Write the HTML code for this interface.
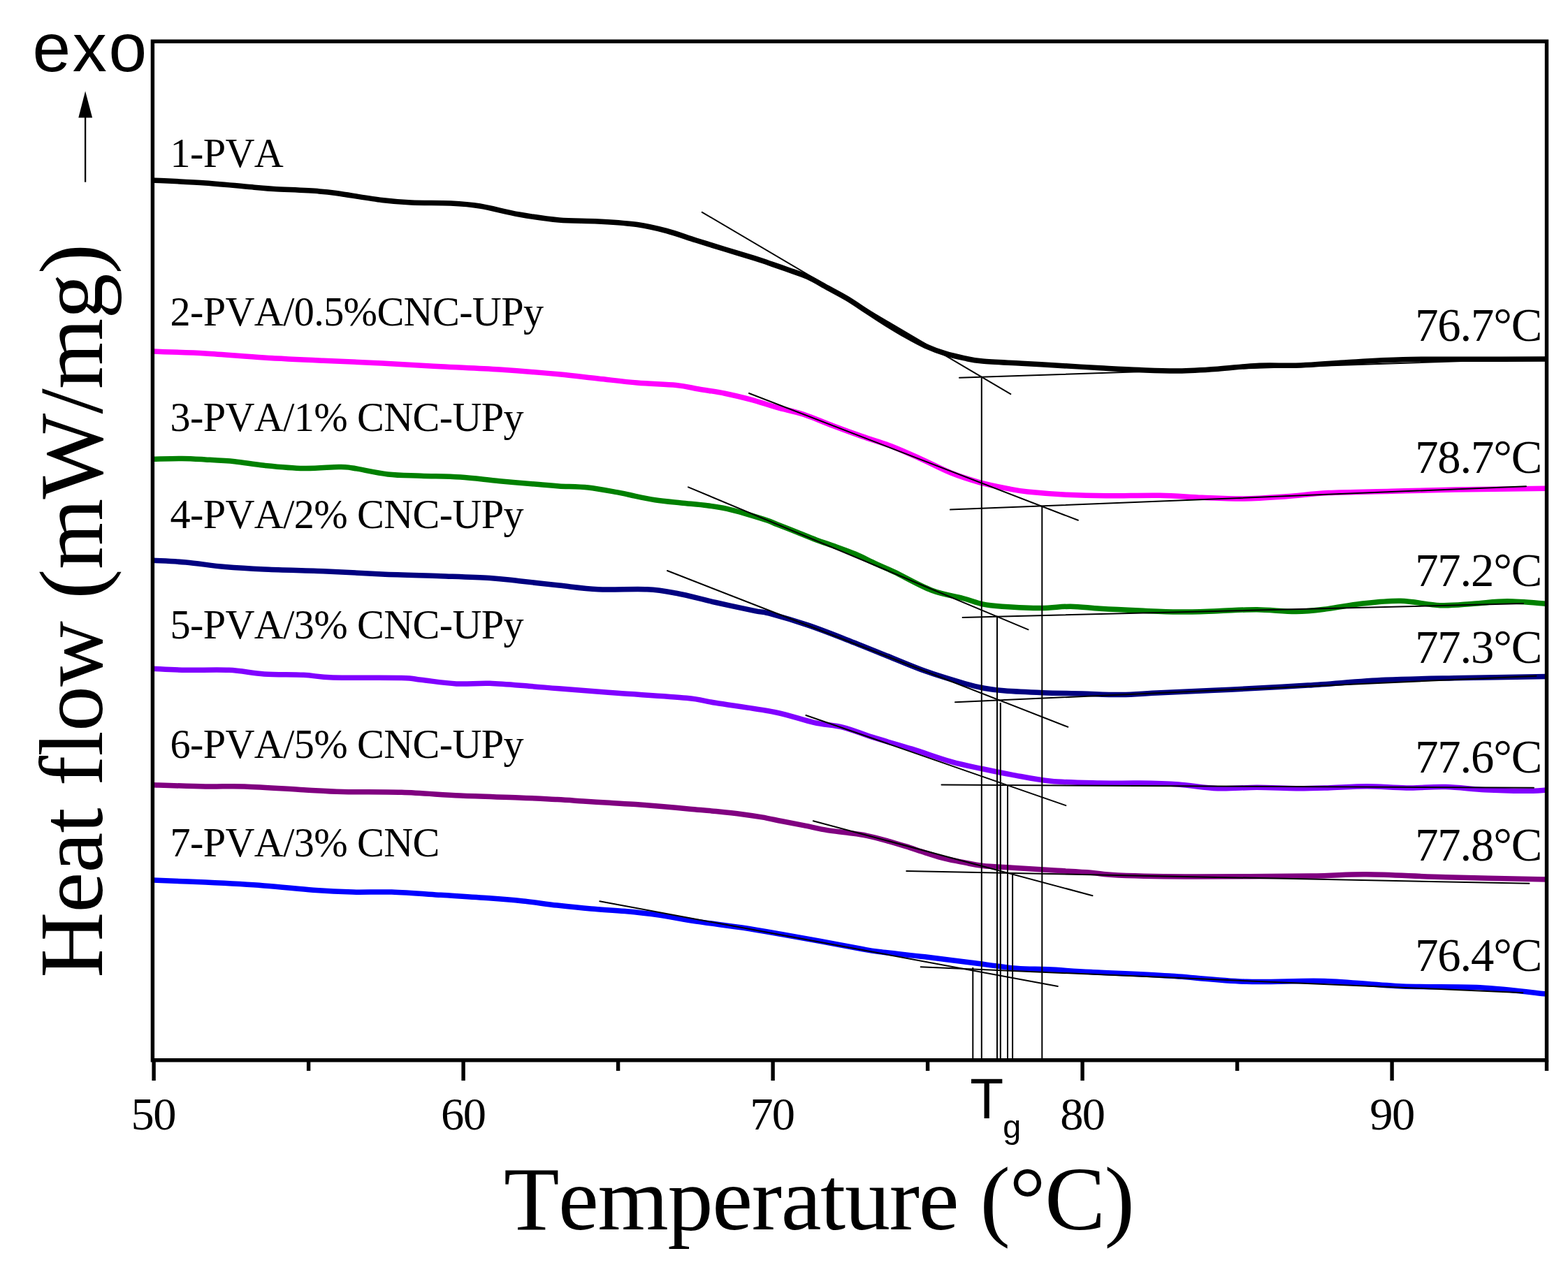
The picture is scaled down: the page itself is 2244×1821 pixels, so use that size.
<!DOCTYPE html>
<html><head><meta charset="utf-8"><title>DSC curves</title>
<style>html,body{margin:0;padding:0;background:#fff;width:2244px;height:1821px;overflow:hidden}svg{display:block}</style>
</head><body>
<svg width="2244" height="1821" viewBox="0 0 2244 1821">
<rect width="2244" height="1821" fill="#fff"/>
<path d="M219.0,257.9 C231.5,258.6 269.8,260.3 294.0,262.0 C318.2,263.7 347.7,266.8 364.0,268.2 C380.3,269.6 376.5,269.6 392.0,270.5 C407.5,271.4 440.6,272.6 457.0,273.9 C473.4,275.1 475.6,275.9 490.5,278.0 C505.4,280.1 530.2,284.5 546.6,286.5 C563.0,288.5 572.3,289.2 588.7,290.0 C605.1,290.8 628.4,290.2 644.8,291.0 C661.2,291.8 670.5,292.3 686.9,295.0 C703.3,297.7 724.1,303.7 743.0,307.0 C761.9,310.3 781.2,313.3 800.0,315.0 C818.8,316.7 837.3,315.9 856.0,317.0 C874.7,318.1 895.7,319.2 912.0,321.5 C928.3,323.8 940.0,326.8 954.0,330.5 C968.0,334.2 982.0,339.6 996.0,344.0 C1010.0,348.4 1023.9,352.7 1038.0,357.0 C1052.1,361.3 1070.2,366.6 1080.5,369.8 C1090.8,373.1 1092.1,373.8 1100.0,376.5 C1107.9,379.2 1118.7,382.8 1128.0,386.2 C1137.3,389.6 1146.7,392.4 1156.1,396.7 C1165.5,401.0 1174.8,406.8 1184.2,411.9 C1193.6,417.0 1202.9,421.7 1212.2,427.3 C1221.5,432.9 1231.0,439.5 1240.3,445.6 C1249.6,451.7 1258.9,458.0 1268.3,463.8 C1277.7,469.6 1287.1,475.4 1296.4,480.6 C1305.8,485.9 1315.1,491.1 1324.4,495.3 C1333.8,499.5 1343.2,503.0 1352.5,505.9 C1361.8,508.8 1371.6,511.0 1380.5,512.9 C1389.4,514.8 1392.4,515.8 1406.0,517.0 C1419.6,518.2 1443.3,519.2 1462.0,520.3 C1480.7,521.4 1499.3,522.3 1518.0,523.4 C1536.7,524.5 1555.7,525.8 1574.4,526.8 C1593.2,527.8 1611.8,528.9 1630.5,529.6 C1649.2,530.3 1667.9,531.2 1686.6,531.0 C1705.3,530.8 1724.0,529.5 1742.7,528.2 C1761.4,526.9 1778.9,524.3 1798.8,523.4 C1818.7,522.5 1841.0,523.8 1862.0,523.0 C1883.0,522.2 1900.2,520.3 1924.5,518.9 C1948.8,517.5 1976.4,515.5 2007.6,514.7 C2038.8,513.9 2077.2,514.4 2111.4,514.3 C2145.6,514.2 2196.1,514.0 2213.0,514.0" fill="none" stroke="#000000" stroke-width="7.5" stroke-linejoin="round" stroke-linecap="butt"/>
<path d="M219.0,503.1 C231.5,503.6 267.5,504.4 294.0,505.9 C320.5,507.4 349.9,510.3 378.0,512.0 C406.1,513.7 434.4,515.0 462.5,516.3 C490.6,517.6 518.6,518.6 546.6,520.0 C574.6,521.4 602.7,523.2 630.8,524.7 C658.9,526.2 686.8,527.1 715.0,529.0 C743.2,530.9 776.5,533.6 800.0,535.8 C823.5,538.0 837.3,540.0 856.0,542.0 C874.7,544.0 893.3,546.4 912.0,548.0 C930.7,549.6 953.3,550.0 968.0,551.5 C982.7,553.0 988.4,555.0 1000.0,557.0 C1011.6,559.0 1024.9,560.7 1037.4,563.2 C1049.9,565.7 1062.3,568.8 1074.8,572.1 C1087.3,575.5 1099.7,579.8 1112.2,583.3 C1124.7,586.8 1136.7,588.9 1150.0,593.3 C1163.3,597.7 1178.0,604.2 1192.0,609.5 C1206.0,614.8 1220.2,620.0 1234.2,624.9 C1248.2,629.8 1262.2,633.5 1276.2,638.9 C1290.2,644.3 1304.3,650.8 1318.3,657.1 C1332.3,663.4 1346.4,671.2 1360.4,676.8 C1374.4,682.4 1388.5,686.9 1402.5,690.8 C1416.5,694.6 1433.1,697.7 1444.5,699.9 C1455.9,702.1 1457.1,702.6 1470.8,704.0 C1484.5,705.4 1508.2,707.3 1526.9,708.3 C1545.6,709.2 1560.8,709.6 1583.0,709.7 C1605.2,709.9 1637.1,708.8 1660.0,709.2 C1682.9,709.6 1700.3,711.5 1720.4,712.3 C1740.5,713.1 1760.5,714.2 1780.6,714.0 C1800.7,713.8 1820.9,712.2 1841.0,710.8 C1861.1,709.4 1875.9,706.9 1901.0,705.6 C1926.1,704.3 1961.3,704.0 1991.4,703.2 C2021.5,702.5 2044.8,701.8 2081.7,701.1 C2118.6,700.5 2191.1,699.6 2213.0,699.3" fill="none" stroke="#ff00ff" stroke-width="7.5" stroke-linejoin="round" stroke-linecap="butt"/>
<path d="M219.0,657.3 C225.9,657.2 248.0,656.4 260.5,656.5 C273.0,656.6 281.4,657.2 294.0,657.9 C306.6,658.6 322.0,659.3 336.0,660.7 C350.0,662.1 361.6,664.7 378.0,666.3 C394.4,667.9 416.6,670.1 434.4,670.5 C452.2,670.9 473.2,668.6 484.9,668.5 C496.6,668.4 492.8,668.3 504.5,670.0 C516.2,671.7 538.6,677.0 555.0,678.9 C571.4,680.8 585.4,680.5 602.7,681.2 C620.0,681.9 640.1,681.9 658.8,683.1 C677.5,684.4 696.3,687.0 715.0,688.7 C733.7,690.4 756.8,692.3 771.0,693.5 C785.2,694.7 788.2,695.2 800.0,695.9 C811.8,696.6 828.0,696.4 842.0,697.9 C856.0,699.4 874.3,703.2 884.0,704.9 C893.7,706.6 891.1,706.5 900.0,708.3 C908.9,710.1 924.9,713.8 937.4,715.7 C949.9,717.6 962.3,718.6 974.8,719.9 C987.3,721.2 1001.3,722.3 1012.2,723.7 C1023.1,725.1 1031.0,726.3 1040.3,728.3 C1049.6,730.3 1058.7,733.0 1068.3,735.8 C1077.9,738.6 1090.7,742.5 1098.0,745.0 C1105.3,747.5 1105.2,748.0 1112.2,750.8 C1119.2,753.6 1131.0,758.0 1140.3,761.7 C1149.6,765.4 1158.9,769.4 1168.3,772.9 C1177.7,776.4 1187.1,779.3 1196.4,782.7 C1205.8,786.1 1215.1,789.3 1224.4,793.3 C1233.8,797.3 1243.2,802.3 1252.5,806.6 C1261.8,810.9 1267.1,812.8 1280.5,819.2 C1293.9,825.6 1316.8,838.8 1333.0,845.0 C1349.2,851.2 1365.8,853.2 1378.0,856.5 C1390.2,859.8 1396.7,862.9 1406.0,864.9 C1415.3,866.9 1420.0,867.3 1434.0,868.2 C1448.0,869.1 1473.7,870.5 1490.0,870.5 C1506.3,870.5 1517.9,868.1 1532.0,868.2 C1546.1,868.3 1558.0,870.3 1574.4,871.3 C1590.8,872.3 1611.8,873.3 1630.5,874.1 C1649.2,874.9 1667.9,876.0 1686.6,876.1 C1705.3,876.2 1724.0,875.3 1742.7,874.7 C1761.4,874.1 1780.1,872.6 1798.8,872.7 C1817.5,872.8 1838.1,875.7 1855.0,875.5 C1871.9,875.3 1884.5,873.5 1900.0,871.6 C1915.5,869.7 1930.6,866.2 1948.0,864.3 C1965.4,862.4 1985.7,859.9 2004.5,860.3 C2023.3,860.7 2043.4,866.0 2060.8,866.7 C2078.2,867.4 2092.9,865.3 2109.0,864.3 C2125.1,863.3 2140.0,860.8 2157.3,860.8 C2174.6,860.8 2203.7,863.7 2213.0,864.3" fill="none" stroke="#008000" stroke-width="7.5" stroke-linejoin="round" stroke-linecap="butt"/>
<path d="M219.0,802.3 C226.8,802.8 248.8,803.5 266.0,805.0 C283.2,806.5 303.3,809.9 322.0,811.5 C340.7,813.1 354.6,813.9 378.0,814.9 C401.4,815.9 434.4,816.5 462.5,817.7 C490.6,818.9 518.6,820.7 546.6,821.9 C574.6,823.1 605.1,823.8 630.8,824.7 C656.5,825.6 682.3,826.3 701.0,827.5 C719.7,828.7 726.5,829.9 743.0,831.7 C759.5,833.5 781.2,836.1 800.0,838.1 C818.8,840.1 835.0,842.8 856.0,843.7 C877.0,844.6 907.3,842.8 926.0,843.7 C944.7,844.6 951.6,846.2 968.0,849.3 C984.4,852.4 1005.7,858.3 1024.4,862.5 C1043.2,866.7 1067.9,872.0 1080.5,874.6 C1093.1,877.2 1087.4,874.6 1100.0,878.0 C1112.6,881.4 1137.3,888.6 1156.0,894.9 C1174.7,901.2 1193.3,908.6 1212.0,915.9 C1230.7,923.1 1249.6,930.9 1268.3,938.4 C1287.0,945.9 1305.7,954.1 1324.4,960.8 C1343.1,967.5 1366.5,974.4 1380.5,978.5 C1394.5,982.6 1399.2,983.5 1408.6,985.2 C1417.9,986.9 1422.6,987.7 1436.6,988.8 C1450.6,989.9 1474.0,991.0 1492.7,991.7 C1511.4,992.4 1530.1,992.5 1548.8,993.0 C1567.5,993.5 1586.3,994.7 1605.0,994.5 C1623.7,994.3 1635.0,992.9 1661.0,991.7 C1687.0,990.5 1725.8,989.0 1761.0,987.2 C1796.2,985.4 1835.0,983.4 1872.0,981.1 C1909.0,978.8 1946.0,975.1 1983.0,973.3 C2020.0,971.5 2055.7,971.3 2094.0,970.5 C2132.3,969.7 2193.2,968.9 2213.0,968.6" fill="none" stroke="#000080" stroke-width="7.5" stroke-linejoin="round" stroke-linecap="butt"/>
<path d="M219.0,957.3 C226.8,957.6 247.9,959.0 266.0,959.3 C284.1,959.6 309.1,958.4 327.8,959.3 C346.5,960.2 360.2,963.7 378.0,964.9 C395.8,966.1 418.0,965.4 434.4,966.3 C450.8,967.1 453.1,969.3 476.5,970.0 C499.9,970.7 553.7,970.0 574.7,970.5 C595.7,971.0 589.6,971.9 602.7,973.3 C615.8,974.7 636.8,978.1 653.2,978.9 C669.6,979.7 683.7,977.7 701.0,978.3 C718.3,978.9 740.5,981.0 757.0,982.3 C773.5,983.5 778.8,984.1 800.0,985.8 C821.2,987.5 853.6,990.0 884.0,992.3 C914.4,994.5 958.9,997.0 982.3,999.3 C1005.7,1001.6 1003.4,1002.9 1024.4,1006.3 C1045.5,1009.7 1085.2,1014.8 1108.6,1019.5 C1132.0,1024.2 1148.2,1030.7 1164.6,1034.3 C1180.9,1037.9 1192.7,1037.8 1206.7,1041.3 C1220.7,1044.8 1232.4,1050.2 1248.8,1055.4 C1265.2,1060.6 1286.3,1066.4 1305.0,1072.2 C1323.7,1078.0 1344.2,1085.7 1361.0,1090.4 C1377.8,1095.2 1391.5,1097.6 1406.0,1100.7 C1420.5,1103.8 1431.7,1106.2 1448.0,1109.1 C1464.3,1112.0 1482.9,1116.3 1504.0,1118.3 C1525.1,1120.3 1553.3,1120.6 1574.4,1121.1 C1595.5,1121.6 1611.8,1120.8 1630.5,1121.1 C1649.2,1121.4 1667.9,1121.8 1686.6,1123.1 C1705.3,1124.4 1724.0,1128.0 1742.7,1128.7 C1761.4,1129.4 1780.1,1127.3 1798.8,1127.3 C1817.5,1127.3 1838.1,1128.6 1855.0,1128.7 C1871.9,1128.8 1883.1,1128.4 1900.0,1127.9 C1916.9,1127.4 1937.5,1125.8 1956.3,1125.8 C1975.1,1125.8 1993.8,1127.8 2012.6,1127.9 C2031.4,1128.0 2050.1,1126.1 2068.9,1126.6 C2087.7,1127.1 2106.4,1129.8 2125.2,1130.7 C2143.9,1131.7 2166.8,1132.2 2181.4,1132.3 C2196.0,1132.4 2207.7,1131.3 2213.0,1131.1" fill="none" stroke="#8000ff" stroke-width="7.5" stroke-linejoin="round" stroke-linecap="butt"/>
<path d="M219.0,1123.7 C231.5,1124.1 272.2,1125.5 294.0,1125.9 C315.8,1126.3 326.6,1125.1 350.0,1125.9 C373.4,1126.7 411.0,1129.4 434.4,1130.7 C457.8,1132.0 467.1,1132.9 490.5,1133.5 C513.9,1134.1 546.7,1133.4 574.7,1134.3 C602.8,1135.2 630.8,1137.8 658.8,1139.1 C686.8,1140.4 719.9,1141.0 743.0,1141.9 C766.1,1142.8 782.1,1143.8 797.4,1144.6 C812.7,1145.4 822.3,1146.2 834.8,1147.0 C847.3,1147.8 859.7,1148.5 872.2,1149.3 C884.7,1150.1 897.1,1150.7 909.6,1151.6 C922.1,1152.5 934.0,1153.4 947.0,1154.5 C960.0,1155.6 974.4,1157.0 987.4,1158.2 C1000.4,1159.4 1012.3,1160.2 1024.8,1161.5 C1037.3,1162.8 1051.3,1164.3 1062.2,1165.7 C1073.1,1167.1 1081.0,1168.3 1090.3,1169.9 C1099.6,1171.5 1108.3,1173.5 1118.3,1175.5 C1128.2,1177.5 1139.0,1179.4 1150.0,1181.6 C1161.0,1183.8 1173.8,1186.8 1184.2,1188.6 C1194.6,1190.3 1202.9,1190.8 1212.2,1192.1 C1221.5,1193.4 1231.0,1194.4 1240.3,1196.3 C1249.6,1198.2 1258.9,1200.7 1268.3,1203.3 C1277.7,1205.9 1287.1,1208.8 1296.4,1211.7 C1305.8,1214.6 1315.1,1217.9 1324.4,1220.8 C1333.8,1223.7 1343.2,1226.8 1352.5,1229.2 C1361.8,1231.6 1371.5,1233.2 1380.5,1234.9 C1389.5,1236.6 1395.3,1238.2 1406.7,1239.4 C1418.1,1240.6 1432.4,1241.1 1448.8,1242.2 C1465.2,1243.3 1486.3,1244.6 1505.0,1245.8 C1523.7,1247.0 1545.2,1248.0 1561.0,1249.2 C1576.8,1250.4 1574.8,1251.9 1600.0,1252.9 C1625.2,1253.9 1666.5,1254.8 1712.2,1255.0 C1758.0,1255.2 1833.9,1254.6 1874.5,1254.1 C1915.1,1253.6 1923.2,1251.5 1955.6,1251.8 C1988.0,1252.1 2026.1,1254.5 2069.0,1255.7 C2111.9,1256.9 2189.0,1258.4 2213.0,1258.9" fill="none" stroke="#800080" stroke-width="7.5" stroke-linejoin="round" stroke-linecap="butt"/>
<path d="M219.0,1260.0 C231.5,1260.5 267.5,1261.8 294.0,1263.1 C320.5,1264.4 352.3,1266.0 378.0,1267.9 C403.7,1269.8 427.3,1272.8 448.4,1274.3 C469.5,1275.8 485.8,1276.6 504.5,1277.1 C523.2,1277.6 539.6,1276.4 560.6,1277.1 C581.6,1277.8 607.6,1279.8 630.8,1281.3 C654.0,1282.8 680.4,1284.3 700.0,1285.8 C719.6,1287.2 732.4,1288.3 748.6,1290.0 C764.8,1291.7 781.0,1294.3 797.2,1296.1 C813.4,1297.9 829.7,1299.6 845.9,1301.0 C862.1,1302.4 878.3,1303.1 894.5,1304.6 C910.7,1306.1 926.1,1307.7 943.1,1310.1 C960.1,1312.5 976.5,1316.1 996.4,1319.1 C1016.2,1322.1 1041.9,1324.9 1062.2,1328.0 C1082.5,1331.1 1099.6,1334.2 1118.3,1337.5 C1137.0,1340.8 1155.7,1344.1 1174.4,1347.5 C1193.1,1350.9 1216.5,1355.5 1230.5,1358.0 C1244.5,1360.5 1242.7,1360.5 1258.2,1362.5 C1273.7,1364.5 1301.8,1367.2 1323.6,1369.8 C1345.4,1372.4 1367.2,1375.3 1389.0,1378.0 C1410.8,1380.7 1436.0,1384.6 1454.5,1386.2 C1473.0,1387.8 1482.2,1386.9 1500.0,1387.8 C1517.8,1388.7 1532.6,1390.0 1561.4,1391.6 C1590.2,1393.1 1635.6,1394.8 1672.7,1397.1 C1709.8,1399.4 1746.9,1404.1 1784.0,1405.3 C1821.1,1406.5 1858.3,1403.4 1895.4,1404.5 C1932.5,1405.6 1969.7,1410.5 2006.8,1412.0 C2043.9,1413.5 2083.6,1412.0 2118.0,1413.8 C2152.4,1415.6 2197.2,1421.5 2213.0,1423.1" fill="none" stroke="#0000ff" stroke-width="7.5" stroke-linejoin="round" stroke-linecap="butt"/>
<line x1="1004.8" y1="303.8" x2="1446.3" y2="564.1" stroke="#000" stroke-width="2" stroke-linecap="round"/>
<line x1="1071.9" y1="563" x2="1542.8" y2="744.8" stroke="#000" stroke-width="2" stroke-linecap="round"/>
<line x1="985" y1="697.3" x2="1471.5" y2="901.3" stroke="#000" stroke-width="2" stroke-linecap="round"/>
<line x1="955" y1="817" x2="1528.3" y2="1040.7" stroke="#000" stroke-width="2" stroke-linecap="round"/>
<line x1="1153.4" y1="1024" x2="1525.3" y2="1153.1" stroke="#000" stroke-width="2" stroke-linecap="round"/>
<line x1="1163.8" y1="1175.2" x2="1563.5" y2="1282.2" stroke="#000" stroke-width="2" stroke-linecap="round"/>
<line x1="858.3" y1="1290.3" x2="1513.8" y2="1412" stroke="#000" stroke-width="2" stroke-linecap="round"/>
<line x1="1373" y1="540.8" x2="2213" y2="513" stroke="#000" stroke-width="2" stroke-linecap="round"/>
<line x1="1360" y1="729.6" x2="2184" y2="696.3" stroke="#000" stroke-width="2" stroke-linecap="round"/>
<line x1="1377.6" y1="884" x2="2180" y2="864" stroke="#000" stroke-width="2" stroke-linecap="round"/>
<line x1="1367" y1="1005.2" x2="2198.5" y2="967.8" stroke="#000" stroke-width="2" stroke-linecap="round"/>
<line x1="1347.5" y1="1123.5" x2="2195" y2="1127.8" stroke="#000" stroke-width="2" stroke-linecap="round"/>
<line x1="1297.3" y1="1247" x2="2188.5" y2="1264.8" stroke="#000" stroke-width="2" stroke-linecap="round"/>
<line x1="1317.7" y1="1384.2" x2="2179.4" y2="1421.2" stroke="#000" stroke-width="2" stroke-linecap="round"/>
<line x1="1404.8" y1="540.8" x2="1404.8" y2="1517.7" stroke="#000" stroke-width="2"/>
<line x1="1491.3" y1="724.6" x2="1491.3" y2="1517.7" stroke="#000" stroke-width="2"/>
<line x1="1427" y1="881.7" x2="1427" y2="1517.7" stroke="#000" stroke-width="2"/>
<line x1="1431.8" y1="1006" x2="1431.8" y2="1517.7" stroke="#000" stroke-width="2"/>
<line x1="1442" y1="1124" x2="1442" y2="1517.7" stroke="#000" stroke-width="2"/>
<line x1="1449.1" y1="1250" x2="1449.1" y2="1517.7" stroke="#000" stroke-width="2"/>
<line x1="1392.3" y1="1385" x2="1392.3" y2="1517.7" stroke="#000" stroke-width="2"/>
<path d="M218.4,59.3 H2213.5 V1517.7 H218.4 Z" fill="none" stroke="#000" stroke-width="5.4"/>
<line x1="220.1" y1="1517.7" x2="220.1" y2="1547" stroke="#000" stroke-width="5.4"/>
<line x1="663.1" y1="1517.7" x2="663.1" y2="1547" stroke="#000" stroke-width="5.4"/>
<line x1="1106.1" y1="1517.7" x2="1106.1" y2="1547" stroke="#000" stroke-width="5.4"/>
<line x1="1549.1" y1="1517.7" x2="1549.1" y2="1547" stroke="#000" stroke-width="5.4"/>
<line x1="1992.1" y1="1517.7" x2="1992.1" y2="1547" stroke="#000" stroke-width="5.4"/>
<line x1="441.6" y1="1517.7" x2="441.6" y2="1533" stroke="#000" stroke-width="5.4"/>
<line x1="884.6" y1="1517.7" x2="884.6" y2="1533" stroke="#000" stroke-width="5.4"/>
<line x1="1327.6" y1="1517.7" x2="1327.6" y2="1533" stroke="#000" stroke-width="5.4"/>
<line x1="1770.6" y1="1517.7" x2="1770.6" y2="1533" stroke="#000" stroke-width="5.4"/>
<line x1="2213.5" y1="1517.7" x2="2213.5" y2="1533" stroke="#000" stroke-width="5.4"/>
<text transform="translate(187.48,1617.20)" style="font-family:'Liberation Serif',serif;font-size:66.50px;letter-spacing:-1.60px;font-kerning:none">50</text>
<text transform="translate(630.98,1617.20)" style="font-family:'Liberation Serif',serif;font-size:66.50px;letter-spacing:-1.60px;font-kerning:none">60</text>
<text transform="translate(1073.15,1617.20)" style="font-family:'Liberation Serif',serif;font-size:66.50px;letter-spacing:-1.60px;font-kerning:none">70</text>
<text transform="translate(1517.15,1617.20)" style="font-family:'Liberation Serif',serif;font-size:66.50px;letter-spacing:-1.60px;font-kerning:none">80</text>
<text transform="translate(1960.32,1617.20)" style="font-family:'Liberation Serif',serif;font-size:66.50px;letter-spacing:-1.60px;font-kerning:none">90</text>
<text transform="translate(720.95,1760.00)" style="font-family:'Liberation Serif',serif;font-size:130.10px;letter-spacing:-1.30px;font-kerning:none">Temperature (°C)</text>
<text transform="translate(146.20,1399.75) rotate(-90)" style="font-family:'Liberation Serif',serif;font-size:130.10px;letter-spacing:-0.70px;font-kerning:none">Heat flow (mW/mg)</text>
<text transform="translate(46.57,101.92)" style="font-family:'Liberation Sans',sans-serif;font-size:98.20px;letter-spacing:2.65px;font-kerning:none">exo</text>
<line x1="122.1" y1="167" x2="122.1" y2="260.7" stroke="#000" stroke-width="2.3"/>
<path d="M122.1,130.4 L112.3,168.6 L132.1,168.6 Z" fill="#000"/>
<text transform="translate(1388.33,1600.90) scale(0.966,1)" style="font-family:'Liberation Sans',sans-serif;font-size:81.20px;letter-spacing:0.00px;font-kerning:none">T</text>
<text transform="translate(1435.13,1629.22)" style="font-family:'Liberation Sans',sans-serif;font-size:46.70px;letter-spacing:0.00px;font-kerning:none">g</text>
<text transform="translate(243.57,238.80)" style="font-family:'Liberation Serif',serif;font-size:58.20px;letter-spacing:-0.64px;font-kerning:none">1-PVA</text>
<text transform="translate(243.57,465.90)" style="font-family:'Liberation Serif',serif;font-size:58.20px;letter-spacing:-0.64px;font-kerning:none">2-PVA/0.5%CNC-UPy</text>
<text transform="translate(243.57,617.10)" style="font-family:'Liberation Serif',serif;font-size:58.20px;letter-spacing:-0.64px;font-kerning:none">3-PVA/1% CNC-UPy</text>
<text transform="translate(243.57,755.50)" style="font-family:'Liberation Serif',serif;font-size:58.20px;letter-spacing:-0.64px;font-kerning:none">4-PVA/2% CNC-UPy</text>
<text transform="translate(243.57,914.20)" style="font-family:'Liberation Serif',serif;font-size:58.20px;letter-spacing:-0.64px;font-kerning:none">5-PVA/3% CNC-UPy</text>
<text transform="translate(243.57,1085.10)" style="font-family:'Liberation Serif',serif;font-size:58.20px;letter-spacing:-0.64px;font-kerning:none">6-PVA/5% CNC-UPy</text>
<text transform="translate(243.57,1226.00)" style="font-family:'Liberation Serif',serif;font-size:58.20px;letter-spacing:-0.64px;font-kerning:none">7-PVA/3% CNC</text>
<text transform="translate(2025.15,487.90)" style="font-family:'Liberation Serif',serif;font-size:66.60px;letter-spacing:-1.10px;font-kerning:none">76.7°C</text>
<text transform="translate(2025.15,676.50)" style="font-family:'Liberation Serif',serif;font-size:66.60px;letter-spacing:-1.10px;font-kerning:none">78.7°C</text>
<text transform="translate(2025.15,838.80)" style="font-family:'Liberation Serif',serif;font-size:66.60px;letter-spacing:-1.10px;font-kerning:none">77.2°C</text>
<text transform="translate(2025.15,948.70)" style="font-family:'Liberation Serif',serif;font-size:66.60px;letter-spacing:-1.10px;font-kerning:none">77.3°C</text>
<text transform="translate(2025.15,1105.50)" style="font-family:'Liberation Serif',serif;font-size:66.60px;letter-spacing:-1.10px;font-kerning:none">77.6°C</text>
<text transform="translate(2025.15,1231.80)" style="font-family:'Liberation Serif',serif;font-size:66.60px;letter-spacing:-1.10px;font-kerning:none">77.8°C</text>
<text transform="translate(2025.15,1390.30)" style="font-family:'Liberation Serif',serif;font-size:66.60px;letter-spacing:-1.10px;font-kerning:none">76.4°C</text>
</svg>
</body></html>
